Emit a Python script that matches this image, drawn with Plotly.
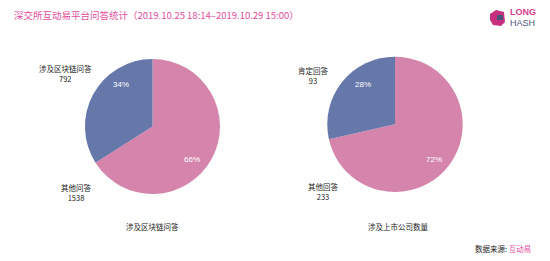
import plotly.graph_objects as go

labels1 = ["其他问答", "涉及区块链问答"]
values1 = [1538, 792]
pct1 = ["66%", "34%"]
labels2 = ["其他回答", "肯定回答"]
values2 = [233, 93]
pct2 = ["72%", "28%"]
subtitles = ["涉及区块链问答", "涉及上市公司数量"]
title_text = "深交所互动易平台问答统计（2019.10.25 18:14–2019.10.29 15:00）"
source_label = "数据来源: "
source_name = "互动易"

PINK = "#D585AC"
BLUE = "#6677A9"
TITLE_PINK = "#E24C9C"
FONT = "Noto Sans CJK SC"

fig = go.Figure()
fig.add_trace(go.Pie(
    labels=labels1, values=values1, sort=False, direction="clockwise", rotation=0,
    marker=dict(colors=[PINK, BLUE], line=dict(width=0)), textinfo="none",
    domain=dict(x=[0.1545, 0.4], y=[0.2567, 0.774]), showlegend=False, hoverinfo="label+value+percent"))
fig.add_trace(go.Pie(
    labels=labels2, values=values2, sort=False, direction="clockwise", rotation=0,
    marker=dict(colors=[PINK, BLUE], line=dict(width=0)), textinfo="none",
    domain=dict(x=[0.5945, 0.8418], y=[0.264, 0.783]), showlegend=False, hoverinfo="label+value+percent"))

anns = []
def lab(x, y, text, size=7.5, color="#222222", xanchor="center", family=FONT):
    anns.append(dict(x=x / 550, y=1 - y / 261, xref="paper", yref="paper", text=text,
                     showarrow=False, xanchor=xanchor, yanchor="middle",
                     font=dict(family=family, size=size, color=color), align="center"))

# outside labels
lab(65, 74, f"{labels1[1]}<br>{values1[1]}")
lab(76, 192, f"{labels1[0]}<br>{values1[0]}")
lab(313, 75, f"{labels2[1]}<br>{values2[1]}")
lab(323, 191, f"{labels2[0]}<br>{values2[0]}")
# percent labels
lab(121, 85, pct1[1], size=8, color="white", family="Liberation Sans")
lab(192, 159, pct1[0], size=8, color="white", family="Liberation Sans")
lab(363, 85, pct2[1], size=8, color="white", family="Liberation Sans")
lab(434, 159, pct2[0], size=8, color="white", family="Liberation Sans")
# subtitles
lab(152, 226, subtitles[0])
lab(398, 226, subtitles[1])
# source
anns.append(dict(x=533 / 550, y=1 - 248 / 261, xref="paper", yref="paper",
                 text=f"{source_label}<span style='color:{TITLE_PINK}'>{source_name}</span>",
                 showarrow=False, xanchor="right", yanchor="middle",
                 font=dict(family=FONT, size=7.5, color="#222222")))
# title
anns.append(dict(x=12 / 550, y=1 - 15 / 261, xref="paper", yref="paper", text=title_text,
                 showarrow=False, xanchor="left", yanchor="middle",
                 font=dict(family=FONT, size=9.5, color=TITLE_PINK)))
# logo text
anns.append(dict(x=508 / 550, y=1 - 12.5 / 261, xref="paper", yref="paper", text="<b>LONG</b>",
                 showarrow=False, xanchor="left", yanchor="middle",
                 font=dict(family="Liberation Sans", size=9, color="#D63C8E")))
anns.append(dict(x=508 / 550, y=1 - 22.5 / 261, xref="paper", yref="paper", text="HASH",
                 showarrow=False, xanchor="left", yanchor="middle",
                 font=dict(family="Liberation Sans", size=9, color="#4A5378")))

shapes = [
    dict(type="path", xref="paper", yref="paper",
         path=" ".join([
             f"M {490/550} {1-14/261}", f"L {496/550} {1-10/261}", f"L {504/550} {1-12/261}",
             f"L {505/550} {1-22/261}", f"L {501/550} {1-26/261}", f"L {493/550} {1-25/261}",
             f"L {490/550} {1-20/261}", "Z"]),
         fillcolor="#C8307F", line=dict(width=0)),
    dict(type="rect", xref="paper", yref="paper", x0=497 / 550, x1=503 / 550,
         y0=1 - 20 / 261, y1=1 - 15 / 261, fillcolor="#4A5378", line=dict(width=0)),
]

fig.update_layout(width=550, height=261, margin=dict(l=0, r=0, t=0, b=0),
                  paper_bgcolor="white", plot_bgcolor="white",
                  annotations=anns, shapes=shapes, font=dict(family=FONT))
fig.write_html("out.html")
